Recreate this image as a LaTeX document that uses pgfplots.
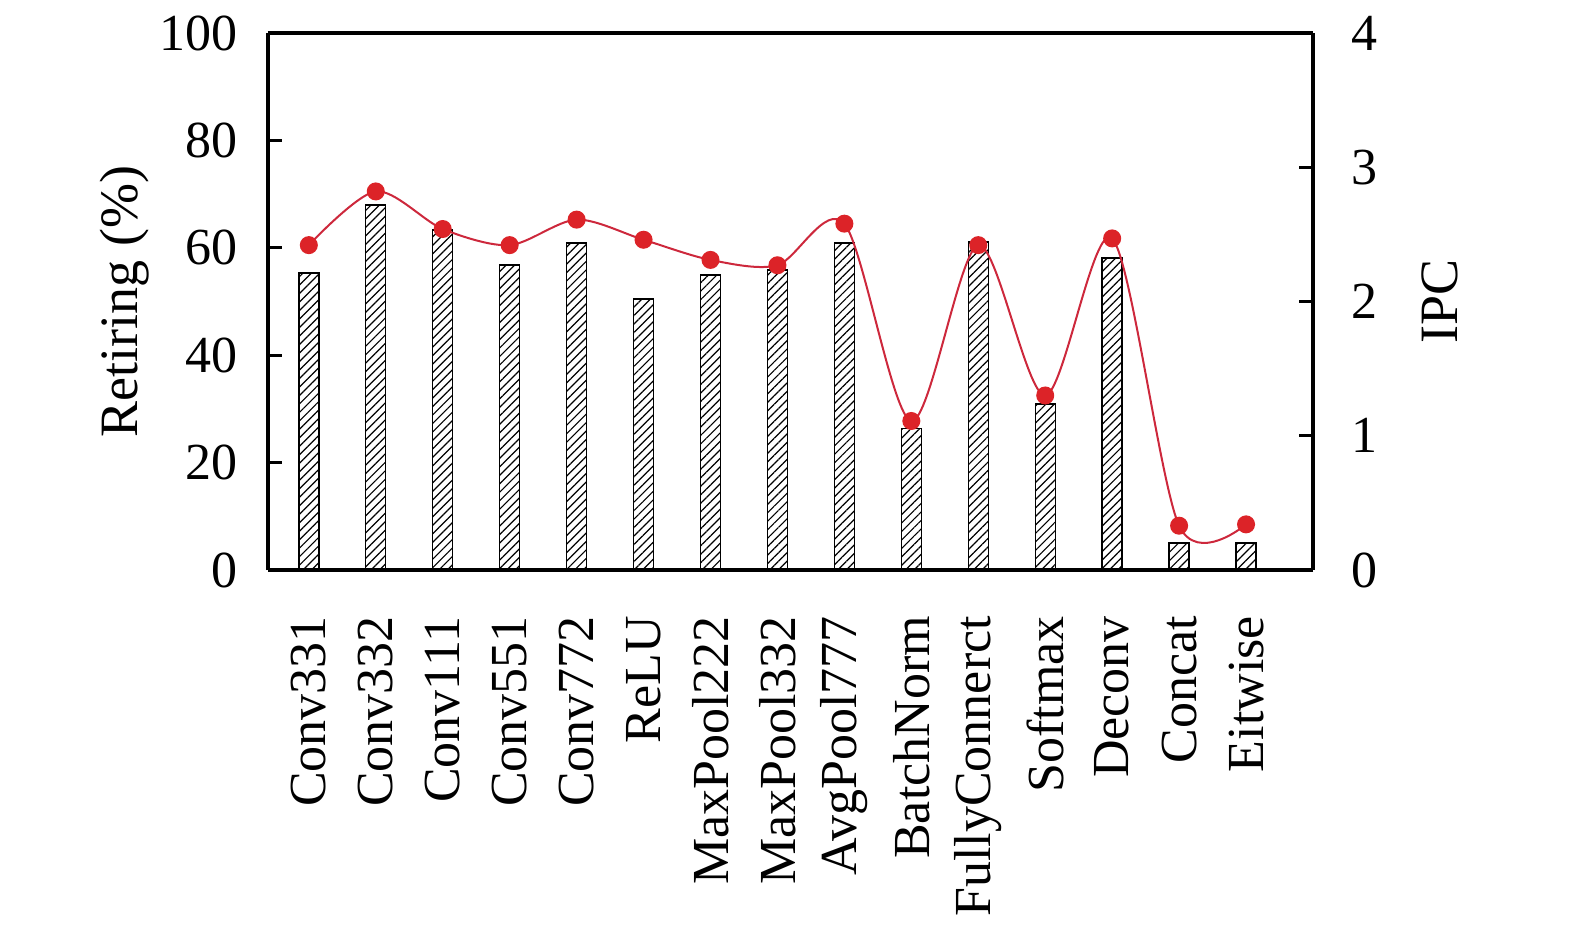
\documentclass[border=0pt]{standalone}
\usepackage{fontspec}
\setmainfont{Liberation Serif}
\usepackage{pgfplots}
\pgfplotsset{compat=1.18}
\usetikzlibrary{patterns.meta}
\definecolor{barred}{RGB}{220,35,40}
\definecolor{linered}{RGB}{205,40,60}
\begin{document}
\begin{tikzpicture}
\useasboundingbox (-67pt,-88.5pt) rectangle (326.75pt,142.5pt);
\begin{axis}[
  scale only axis, width=261.25pt, height=134.25pt,
  at={(0,0)}, anchor=south west,
  xmin=-0.61, xmax=15.0, ymin=0, ymax=100,
  axis y line*=left, axis x line*=bottom,
  axis line style={line width=0.8pt},
  xtick={0,...,14},
  xticklabels={Conv331,Conv332,Conv111,Conv551,Conv772,ReLU,MaxPool222,MaxPool332,AvgPool777,BatchNorm,FullyConnerct,Softmax,Deconv,Concat,Eitwise},
  x tick label style={rotate=90, anchor=east, font=\fontsize{13}{14}\selectfont},
  major x tick style={draw=none},
  xticklabel shift=8pt,
  ytick={0,20,...,100},
  tick align=inside,
  major tick length=3.5pt,
  y tick style={line width=0.8pt, black},
  y tick label style={font=\fontsize{13}{13}\selectfont},
  /pgf/number format/assume math mode=true,
  yticklabel shift=4pt,
  ylabel={Retiring (\%)},
  ylabel style={font=\fontsize{13.5}{14}\selectfont, at={(axis description cs:-0.137,0.5)}, anchor=center},
  clip=false,
]
\addplot[ybar, bar width=5pt, draw=black, line width=0.35pt,
  pattern={Lines[angle=45,distance=1.5pt,line width=0.3pt]}]
coordinates {
(0,55.3) (1,68.0) (2,63.3) (3,56.8) (4,60.9) (5,50.5) (6,54.9) (7,55.9)
(8,60.9) (9,26.3) (10,61.1) (11,30.9) (12,58.1) (13,5.0) (14,5.0)
};
\draw[line width=0.8pt] (axis cs:-0.61,100) -- (axis cs:15.0,100);
\end{axis}
\begin{axis}[
  scale only axis, width=261.25pt, height=134.25pt,
  at={(0,0)}, anchor=south west,
  xmin=-0.61, xmax=15.0, ymin=0, ymax=4,
  axis y line*=right, axis x line=none,
  axis line style={line width=0.8pt},
  ytick={0,1,2,3,4},
  tick align=inside,
  major tick length=3.5pt,
  y tick style={line width=0.8pt, black},
  y tick label style={font=\fontsize{13}{13}\selectfont},
  /pgf/number format/assume math mode=true,
  yticklabel shift=6pt,
  ylabel={IPC},
  ylabel style={font=\fontsize{13.5}{14}\selectfont, at={(axis description cs:1.1215,0.5)}, anchor=center, rotate=0},
  clip=false,
]
\addplot[smooth, tension=0.5, color=linered, line width=0.5pt,
  mark=*, mark size=2pt, mark options={fill=barred, draw=barred}]
coordinates {
(0,2.42) (1,2.82) (2,2.54) (3,2.42) (4,2.61) (5,2.46) (6,2.31) (7,2.27)
(8,2.58) (9,1.11) (10,2.42) (11,1.30) (12,2.47) (13,0.33) (14,0.34)
};
\end{axis}
\end{tikzpicture}
\end{document}
